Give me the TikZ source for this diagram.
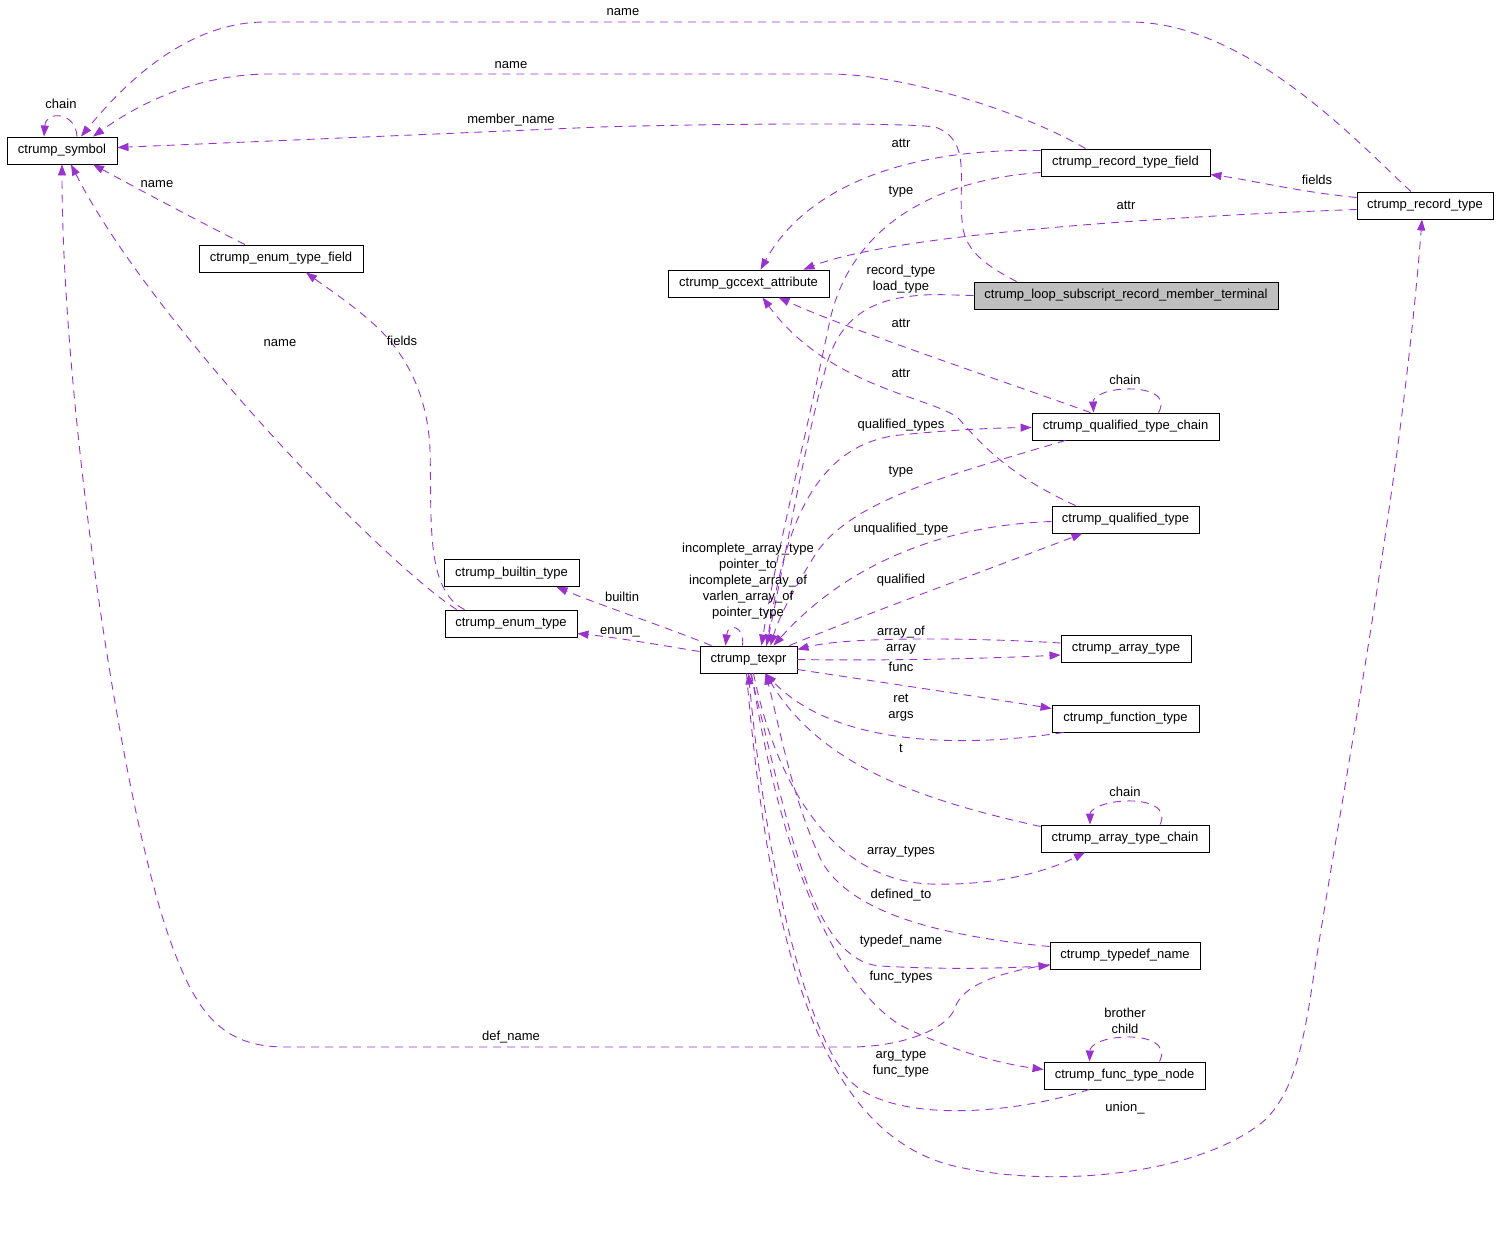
\documentclass[tikz,border=0pt]{standalone}
\usepackage{fontspec}
\setmainfont{Liberation Sans}
\usetikzlibrary{arrows.meta,calc}
\definecolor{dxpurple}{HTML}{9A32CD}
\definecolor{dxgray}{HTML}{BFBFBF}
\begin{document}
\begin{tikzpicture}[x=1pt,y=-1pt,
  cls/.style={draw=black, line width=0.9pt, fill=white, minimum height=27pt, inner sep=0pt, font=\fontsize{13}{15}\selectfont},
  lbl/.style={inner sep=0pt, font=\fontsize{13}{16}\selectfont, align=center},
  rel/.style={draw=dxpurple, line width=0.9pt, dash pattern=on 8pt off 6pt, -{Triangle[length=11pt,width=8pt]}},
  ]
\useasboundingbox (0,0) rectangle (1499,1237);

% ---------- classes ----------
\node[cls, minimum width=110pt] (sym) at (62,150.5) {ctrump\_symbol};
\node[cls, minimum width=164pt] (etf) at (281,258.5) {ctrump\_enum\_type\_field};
\node[cls, minimum width=161pt] (gcc) at (748.5,283.5) {ctrump\_gccext\_attribute};
\node[cls, minimum width=169pt] (rtf) at (1125.5,162.5) {ctrump\_record\_type\_field};
\node[cls, minimum width=136pt] (rt) at (1425,205.5) {ctrump\_record\_type};
\node[cls, minimum width=304pt, fill=dxgray] (loop) at (1126,295.5) {ctrump\_loop\_subscript\_record\_member\_terminal};
\node[cls, minimum width=187pt] (qtc) at (1125.5,426.5) {ctrump\_qualified\_type\_chain};
\node[cls, minimum width=147pt] (qt) at (1125.5,519.5) {ctrump\_qualified\_type};
\node[cls, minimum width=135pt] (bt) at (511.5,573) {ctrump\_builtin\_type};
\node[cls, minimum width=132pt] (et) at (511,623.5) {ctrump\_enum\_type};
\node[cls, minimum width=97pt] (tx) at (748.5,659.5) {ctrump\_texpr};
\node[cls, minimum width=130pt] (at) at (1126,649) {ctrump\_array\_type};
\node[cls, minimum width=147pt] (ft) at (1125.5,718.5) {ctrump\_function\_type};
\node[cls, minimum width=168pt] (atc) at (1125,838.5) {ctrump\_array\_type\_chain};
\node[cls, minimum width=150pt] (td) at (1125,955.5) {ctrump\_typedef\_name};
\node[cls, minimum width=161pt] (ftn) at (1124.5,1075.5) {ctrump\_func\_type\_node};

% ---------- edges ----------
% symbol self loop
\draw[rel] ($(sym.north)+(15,0)$) .. controls (76,112) and (46,110) .. ($(sym.north)+(-18,0)$);
% record_type -> symbol (name)
\draw[rel] ($(rt.north)+(-14,0)$) .. controls (1365,150) and (1250,22) .. (1130,22) -- (265,22) .. controls (180,22) and (115,95) .. ($(sym.north)+(19,0)$);
% record_type_field -> symbol (name)
\draw[rel] ($(rtf.north)+(-40,0)$) .. controls (1020,110) and (900,74) .. (830,74) -- (270,74) .. controls (190,74) and (130,110) .. ($(sym.north)+(31,0)$);
% loop -> symbol (member_name)
\draw[rel] ($(loop.north west)+(43,0)$) .. controls (985,265) and (963,250) .. (962,220) .. controls (958,180) and (972,140) .. (935,127) .. controls (900,122) and (700,124) .. (600,127) -- ($(sym.east)+(0,-3)$);
% enum_type_field -> symbol (name)
\draw[rel] ($(etf.north)+(-36,0)$) .. controls (200,222) and (140,190) .. ($(sym.south)+(31,0)$);
% enum_type -> symbol (name)
\draw[rel] ($(et.north west)+(12,0)$) .. controls (380,560) and (150,320) .. ($(sym.south)+(9,0)$);
% typedef_name -> symbol (def_name)
\draw[rel] ($(td.west)+(0,9)$) .. controls (1000,972) and (962,985) .. (955,1008) .. controls (947,1030) and (900,1047) .. (850,1047) -- (285,1047) .. controls (220,1047) and (195,1010) .. (170,940) .. controls (120,800) and (62,400) .. (sym.south);
% record_type_field -> gcc (attr)
\draw[rel] ($(rtf.north west)+(0,2)$) .. controls (920,148) and (810,180) .. ($(gcc.north)+(12,0)$);
% record_type -> gcc (attr)
\draw[rel] ($(rt.west)+(0,4)$) .. controls (1200,215) and (900,232) .. ($(gcc.north)+(55,0)$);
% qualified_type_chain -> gcc (attr)
\draw[rel] ($(qtc.north)+(-35,0)$) .. controls (1000,380) and (850,330) .. ($(gcc.south)+(30,0)$);
% qualified_type -> gcc (attr)
\draw[rel] ($(qt.north)+(-50,0)$) .. controls (1020,480) and (990,455) .. (960,420) .. controls (940,398) and (830,390) .. ($(gcc.south)+(14,0)$);
% record_type_field -> texpr (type)
\draw[rel] ($(rtf.west)+(0,10)$) .. controls (930,180) and (850,230) .. (830,320) .. controls (805,440) and (775,560) .. ($(tx.north)+(13,0)$);
% loop -> texpr (record_type / load_type)
\draw[rel] (loop.west) -- (935,294.5) .. controls (880,296) and (845,310) .. (828,360) .. controls (805,440) and (785,560) .. ($(tx.north)+(18,0)$);
% texpr -> qualified_type_chain (qualified_types)
\draw[rel] ($(tx.north)+(18,0)$) .. controls (780,560) and (800,445) .. (900,435) .. controls (950,430) and (990,428) .. ($(qtc.west)+(0,1)$);
% qualified_type_chain -> texpr (type)
\draw[rel] ($(qtc.south)+(-60,0)$) .. controls (950,475) and (850,500) .. (815,555) .. controls (790,595) and (778,620) .. ($(tx.north)+(22,0)$);
% qualified_type -> texpr (unqualified_type)
\draw[rel] ($(qt.west)+(0,2)$) .. controls (950,525) and (850,560) .. ($(tx.north)+(25,0)$);
% texpr -> qualified_type (qualified)
\draw[rel] ($(tx.north east)+(-8,0)$) .. controls (850,620) and (1000,565) .. ($(qt.south)+(-43,0)$);
% array_type -> texpr (array_of)
\draw[rel] ($(at.west)+(0,-6)$) .. controls (980,638) and (850,636) .. ($(tx.east)+(0,-10)$);
% texpr -> array_type (array)
\draw[rel] (tx.east) .. controls (900,661) and (1000,658) .. ($(at.west)+(0,6)$);
% texpr -> function_type (func)
\draw[rel] ($(tx.east)+(0,10)$) .. controls (900,685) and (1000,700) .. ($(ft.west)+(0,-10)$);
% function_type -> texpr (ret / args)
\draw[rel] ($(ft.south west)+(12,0)$) .. controls (950,750) and (830,742) .. ($(tx.south)+(17,0)$);
% array_type_chain -> texpr (t)
\draw[rel] ($(atc.west)+(0,-12)$) .. controls (920,800) and (820,765) .. ($(tx.south)+(17,0)$);
% array_type_chain self loop
\draw[rel] ($(atc.north)+(35,0)$) .. controls (1168,808) and (1150,800) .. (1125,801) .. controls (1102,802) and (1090,810) .. ($(atc.north)+(-35,0)$);
% qualified_type_chain self loop
\draw[rel] ($(qtc.north)+(33,0)$) .. controls (1168,396) and (1150,388) .. (1125,389) .. controls (1102,390) and (1093,398) .. ($(qtc.north)+(-32,0)$);
% func_type_node self loop
\draw[rel] ($(ftn.north)+(35,0)$) .. controls (1168,1045) and (1150,1036) .. (1125,1037) .. controls (1100,1038) and (1090,1046) .. ($(ftn.north)+(-35,0)$);
% texpr -> array_type_chain (array_types)
\draw[rel] ($(tx.south)+(5,0)$) .. controls (775,780) and (830,880) .. (930,884) .. controls (1000,886) and (1050,870) .. ($(atc.south)+(-40,0)$);
% typedef_name -> texpr (defined_to)
\draw[rel] ($(td.west)+(0,-9)$) .. controls (930,935) and (850,910) .. (822,862) .. controls (792,800) and (778,720) .. ($(tx.south)+(17,0)$);
% texpr -> typedef_name (typedef_name)
\draw[rel] ($(tx.south)+(2,0)$) .. controls (788,820) and (810,960) .. (880,966) .. controls (950,970) and (1010,968) .. ($(td.west)+(0,10)$);
% texpr -> func_type_node (func_types)
\draw[rel] ($(tx.south)+(3,0)$) .. controls (780,850) and (830,980) .. (900,1025) .. controls (960,1055) and (1010,1065) .. ($(ftn.west)+(0,-6)$);
% func_type_node -> texpr (arg_type / func_type)
\draw[rel] ($(ftn.south)+(-35,0)$) .. controls (1000,1118) and (880,1122) .. (845,1075) .. controls (790,1000) and (760,800) .. ($(tx.south)+(0,0)$);
% texpr -> record_type (union_)
\draw[rel] ($(tx.south)+(-2,0)$) .. controls (770,950) and (820,1130) .. (950,1165) .. controls (1050,1190) and (1200,1175) .. (1265,1120) .. controls (1290,1095) and (1300,1060) .. (1310,1000) .. controls (1340,800) and (1400,500) .. ($(rt.south)+(-3,0)$);
% record_type -> record_type_field (fields)
\draw[rel] ($(rt.west)+(0,-8)$) .. controls (1300,192) and (1250,180) .. ($(rtf.east)+(0,12)$);
% texpr -> builtin_type (builtin)
\draw[rel] ($(tx.north west)+(12,0)$) .. controls (660,625) and (600,605) .. ($(bt.south)+(45,0)$);
% texpr -> enum_type (enum_)
\draw[rel] ($(tx.west)+(0,-8)$) .. controls (660,645) and (620,638) .. ($(et.east)+(0,10)$);
% enum_type -> enum_type_field (fields)
\draw[rel] ($(et.north west)+(20,0)$) .. controls (425,590) and (432,520) .. (430,450) .. controls (428,400) and (410,360) .. (380,330) .. controls (360,310) and (330,290) .. ($(etf.south)+(25,0)$);
% texpr self loop
\draw[rel] ($(tx.north)+(-6,0)$) .. controls (745,626) and (728,622) .. ($(tx.north)+(-23,0)$);

% ---------- labels ----------
\node[lbl] (l1) at (61,104) {chain};
\node[lbl] (l2) at (623,12) {name};
\node[lbl] (l3) at (511,65) {name};
\node[lbl] (l4) at (511,120) {member\_name};
\node[lbl] (l5) at (157,184) {name};
\node[lbl] (l6) at (280,343) {name};
\node[lbl] (l7) at (402,341) {fields};
\node[lbl] (l8) at (901,143) {attr};
\node[lbl] (l9) at (901,192) {type};
\node[lbl] (l10) at (1126,205) {attr};
\node[lbl] (l11) at (1317,180) {fields};
\node[lbl] (l12) at (901,279) {record\_type\\load\_type};
\node[lbl] (l13) at (901,323) {attr};
\node[lbl] (l14) at (901,373) {attr};
\node[lbl] (l15) at (1125,380) {chain};
\node[lbl] (l16) at (901,425) {qualified\_types};
\node[lbl] (l17) at (901,472) {type};
\node[lbl] (l18) at (901,529) {unqualified\_type};
\node[lbl] (l19) at (901,580) {qualified};
\node[lbl] (l20) at (748,581) {incomplete\_array\_type\\pointer\_to\\incomplete\_array\_of\\varlen\_array\_of\\pointer\_type};
\node[lbl] (l21) at (622,597) {builtin};
\node[lbl] (l22) at (620,632) {enum\_};
\node[lbl] (l23) at (901,632) {array\_of};
\node[lbl] (l24) at (901,649) {array};
\node[lbl] (l25) at (901,667) {func};
\node[lbl] (l26) at (901,708) {ret\\args};
\node[lbl] (l27) at (901,748) {t};
\node[lbl] (l28) at (1125,792) {chain};
\node[lbl] (l29) at (901,852) {array\_types};
\node[lbl] (l30) at (901,895) {defined\_to};
\node[lbl] (l31) at (901,941) {typedef\_name};
\node[lbl] (l32) at (901,977) {func\_types};
\node[lbl] (l33) at (1125,1021) {brother\\child};
\node[lbl] (l34) at (511,1037) {def\_name};
\node[lbl] (l35) at (901,1064) {arg\_type\\func\_type};
\node[lbl] (l36) at (1125,1108) {union\_};
\end{tikzpicture}
\end{document}
